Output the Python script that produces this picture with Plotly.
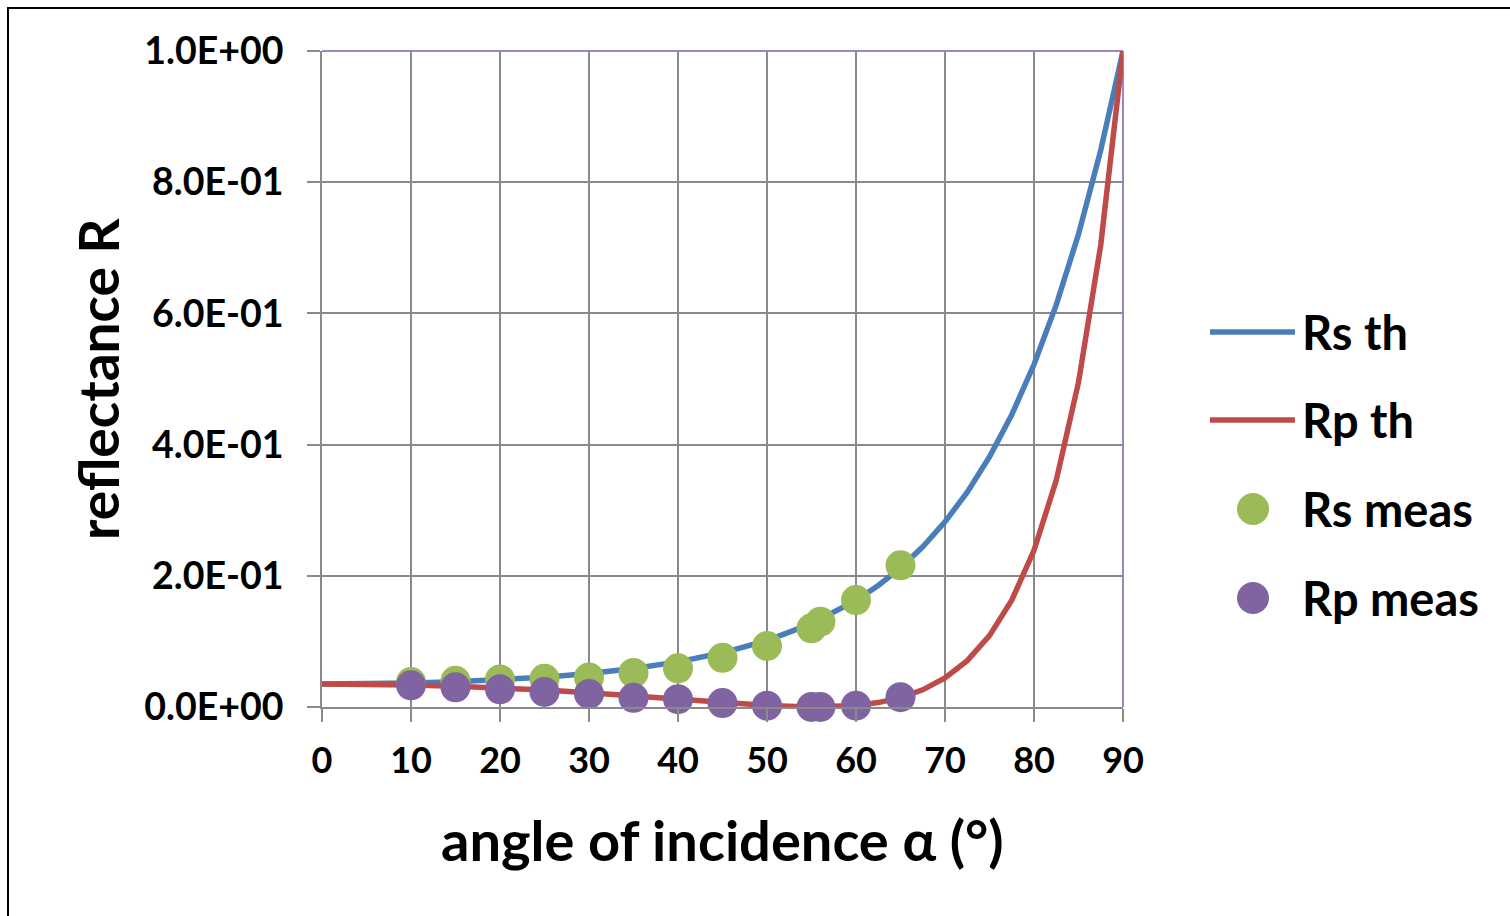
import plotly.graph_objects as go

# ---- data ----
angle_th = [0, 5, 10, 15, 20, 25, 30, 35, 40, 45, 50, 55, 60, 62.5, 65, 67.5, 70,
            72.5, 75, 77.5, 80, 82.5, 85, 87.5, 90]
rs_th = [0.0350, 0.0353, 0.0365, 0.0384, 0.0414, 0.0455, 0.0511, 0.0586, 0.0688,
         0.0826, 0.1013, 0.1270, 0.1625, 0.1853, 0.2122, 0.2442, 0.2823, 0.3275,
         0.3814, 0.4456, 0.5220, 0.6129, 0.7208, 0.8488, 1.0]
rp_th = [0.0350, 0.0346, 0.0335, 0.0317, 0.0291, 0.0258, 0.0217, 0.0171, 0.0120,
         0.0068, 0.0024, 0.0000, 0.0024, 0.0067, 0.0142, 0.0262, 0.0442, 0.0707,
         0.1088, 0.1628, 0.2389, 0.3455, 0.4949, 0.7045, 1.0]

angle_meas = [10, 15, 20, 25, 30, 35, 40, 45, 50, 55, 56, 60, 65]
rs_meas = [0.038, 0.040, 0.042, 0.043, 0.045, 0.052, 0.059, 0.075, 0.093, 0.120,
           0.130, 0.163, 0.216]
rp_meas = [0.033, 0.030, 0.027, 0.023, 0.020, 0.014, 0.012, 0.006, 0.002, 0.000,
           0.000, 0.002, 0.015]

x_ticks = [0, 10, 20, 30, 40, 50, 60, 70, 80, 90]
y_ticks = [0, 0.2, 0.4, 0.6, 0.8, 1.0]
y_ticktext = ["0.0E+00", "2.0E-01", "4.0E-01", "6.0E-01", "8.0E-01", "1.0E+00"]

series_names = ["Rs th", "Rp th", "Rs meas", "Rp meas"]
colors = ["#4A7EBB", "#BE4B48", "#9BBB59", "#8064A2"]

# ---- layout geometry (pixels) ----
W, H = 1510, 916
L, R, T, B = 322, 1123, 51, 707
FONT = "Lato"


def px(x):
    return (x - L) / (R - L)


def py(y):
    return (B - y) / (B - T)


fig = go.Figure()
fig.add_trace(go.Scatter(x=angle_th, y=rs_th, mode="lines", name=series_names[0],
                         line=dict(color=colors[0], width=5.5), cliponaxis=False))
fig.add_trace(go.Scatter(x=angle_th, y=rp_th, mode="lines", name=series_names[1],
                         line=dict(color=colors[1], width=5.5), cliponaxis=False))
fig.add_trace(go.Scatter(x=angle_meas, y=rs_meas, mode="markers", name=series_names[2],
                         marker=dict(color=colors[2], size=30), cliponaxis=False))
fig.add_trace(go.Scatter(x=angle_meas, y=rp_meas, mode="markers", name=series_names[3],
                         marker=dict(color=colors[3], size=30), cliponaxis=False))

grid = "#8A8A8A"
purple = "#9E86C6"
fig.update_xaxes(range=[0, 90], tickvals=x_ticks, ticktext=[str(v) for v in x_ticks],
                 showgrid=True, gridcolor=grid, gridwidth=2,
                 showline=True, linecolor=grid, linewidth=2,
                 ticks="outside", ticklen=13, tickwidth=2, tickcolor=grid,
                 tickfont=dict(family=FONT, size=36, color="black", weight="bold"),
                 ticklabelstandoff=8, zeroline=False)
fig.update_yaxes(range=[0, 1], tickvals=y_ticks, ticktext=y_ticktext,
                 showgrid=True, gridcolor=grid, gridwidth=2,
                 showline=True, linecolor=grid, linewidth=2,
                 ticks="outside", ticklen=13, tickwidth=2, tickcolor=grid,
                 tickfont=dict(family=FONT, size=37.5, color="black", weight="bold"),
                 ticklabelstandoff=16, zeroline=False)

shapes = [
    # purple top and right plot-area border
    dict(type="line", xref="paper", yref="paper", x0=0, x1=1, y0=1, y1=1,
         line=dict(color=purple, width=2), layer="between"),
    dict(type="line", xref="paper", yref="paper", x0=1, x1=1, y0=0, y1=1,
         line=dict(color=purple, width=2), layer="between"),
    # outer chart frame
    dict(type="rect", xref="paper", yref="paper", x0=px(8), x1=px(1600), y0=py(1000),
         y1=py(8), line=dict(color="black", width=2), layer="above"),
]

annotations = [
    dict(text="angle of incidence α (°)", xref="paper", yref="paper",
         x=px(722), y=py(840), showarrow=False, xanchor="center", yanchor="middle",
         font=dict(family=FONT, size=56, color="black", weight="bold")),
    dict(text="reflectance R", xref="paper", yref="paper", textangle=-90,
         x=px(98), y=py(379), showarrow=False, xanchor="center", yanchor="middle",
         font=dict(family=FONT, size=55, color="black", weight="bold")),
]

# custom legend
leg_y = [332, 420, 509, 598]
for i, name in enumerate(series_names):
    if i < 2:
        shapes.append(dict(type="line", xref="paper", yref="paper",
                           x0=px(1210), x1=px(1295), y0=py(leg_y[i]), y1=py(leg_y[i]),
                           line=dict(color=colors[i], width=5.5), layer="above"))
    else:
        r = 16
        shapes.append(dict(type="circle", xref="paper", yref="paper",
                           x0=px(1253 - r), x1=px(1253 + r),
                           y0=py(leg_y[i] + r), y1=py(leg_y[i] - r),
                           fillcolor=colors[i], line=dict(width=0), layer="above"))
    annotations.append(dict(text=name, xref="paper", yref="paper",
                            x=px(1300), y=py(leg_y[i]), showarrow=False,
                            xanchor="left", yanchor="middle",
                            font=dict(family=FONT, size=47, color="black", weight="bold")))

fig.update_layout(width=W, height=H, autosize=False,
                  margin=dict(l=L, r=W - R, t=T, b=H - B, pad=0),
                  paper_bgcolor="white", plot_bgcolor="white",
                  showlegend=False, shapes=shapes, annotations=annotations)

fig.write_html("out.html")
